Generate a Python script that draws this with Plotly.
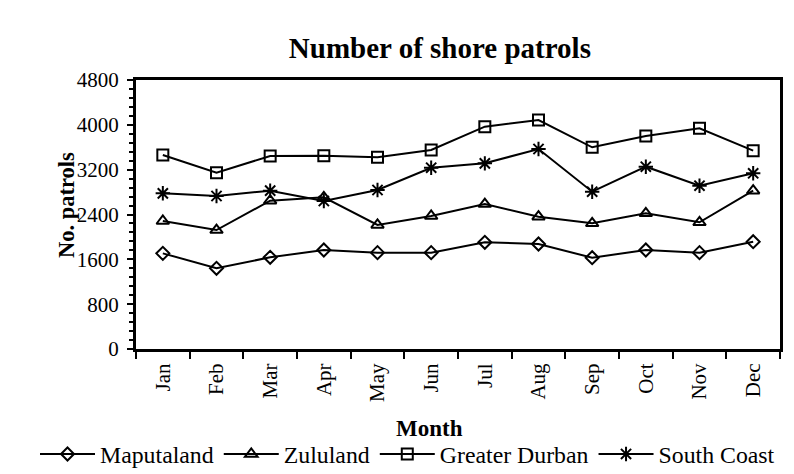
import plotly.graph_objects as go

months = ["Jan", "Feb", "Mar", "Apr", "May", "Jun", "Jul", "Aug", "Sep", "Oct", "Nov", "Dec"]
maputaland = [1707, 1440, 1636, 1767, 1719, 1719, 1904, 1874, 1629, 1767, 1719, 1915]
zululand = [2284, 2123, 2646, 2707, 2213, 2373, 2587, 2361, 2243, 2421, 2261, 2825]
greater_durban = [3462, 3146, 3444, 3450, 3420, 3551, 3967, 4086, 3599, 3801, 3938, 3539]
south_coast = [2778, 2730, 2825, 2641, 2837, 3235, 3313, 3569, 2807, 3253, 2914, 3135]

series_names = ["Maputaland", "Zululand", "Greater Durban", "South Coast"]
series = [
    (series_names[0], maputaland, "diamond-open", 10),
    (series_names[1], zululand, "triangle-up-open", 11),
    (series_names[2], greater_durban, "square-open", 11),
    (series_names[3], south_coast, "asterisk-open", 12),
]

FONT = "Liberation Serif, Times New Roman, serif"

fig = go.Figure()
for name, vals, sym, sz in series:
    fig.add_trace(go.Scatter(
        x=months, y=vals, name=name, mode="lines+markers",
        line=dict(color="black", width=2),
        marker=dict(symbol=sym, size=sz, color="black",
                    line=dict(color="black", width=2)),
    ))

fig.update_layout(
    width=794, height=474,
    margin=dict(l=136, r=14, t=80, b=125, autoexpand=False),
    paper_bgcolor="white", plot_bgcolor="white",
    font=dict(family=FONT, color="black", size=21),
    title=dict(text="<b>Number of shore patrols</b>", font=dict(size=29, family=FONT),
               xref="container", x=0.554, xanchor="center",
               yref="container", y=1 - 48 / 474, yanchor="middle"),
    showlegend=True,
    legend=dict(orientation="h", xref="paper", x=(35 - 136) / 644, xanchor="left",
                yref="paper", y=(349 - 454) / 269, yanchor="middle",
                font=dict(size=23.8, family=FONT), itemwidth=55,
                tracegroupgap=0, bgcolor="rgba(0,0,0,0)"),
)

fig.update_xaxes(
    type="category", range=[-0.5, 11.5],
    showline=True, linecolor="black", linewidth=3, mirror=True,
    ticks="outside", tickson="boundaries", ticklen=7, tickwidth=2, tickcolor="black",
    tickangle=-90, tickfont=dict(size=21, family=FONT), ticklabelstandoff=3,
    showgrid=False, zeroline=False,
)
fig.update_yaxes(
    range=[0, 4800], tickvals=[0, 800, 1600, 2400, 3200, 4000, 4800],
    showline=True, linecolor="black", linewidth=3, mirror=True,
    ticks="outside", ticklen=6, tickwidth=2, tickcolor="black",
    tickfont=dict(size=21, family=FONT), ticklabelstandoff=4,
    minor=dict(dtick=160, tick0=0, ticks="outside", ticklen=4, tickwidth=2, tickcolor="black", showgrid=False),
    showgrid=False, zeroline=False,
)

fig.add_annotation(text="<b>No. patrols</b>", textangle=-90, xref="paper", yref="paper",
                   x=(66 - 136) / 644, y=(349 - 205) / 269, xanchor="center", yanchor="middle",
                   showarrow=False, font=dict(size=22.5, family=FONT))
fig.add_annotation(text="<b>Month</b>", xref="paper", yref="paper",
                   x=(429 - 136) / 644, y=(349 - 428) / 269, xanchor="center", yanchor="middle",
                   showarrow=False, font=dict(size=23, family=FONT))

fig.write_html("out.html", config={"displayModeBar": False},
               post_script="document.body.style.margin='0';")
